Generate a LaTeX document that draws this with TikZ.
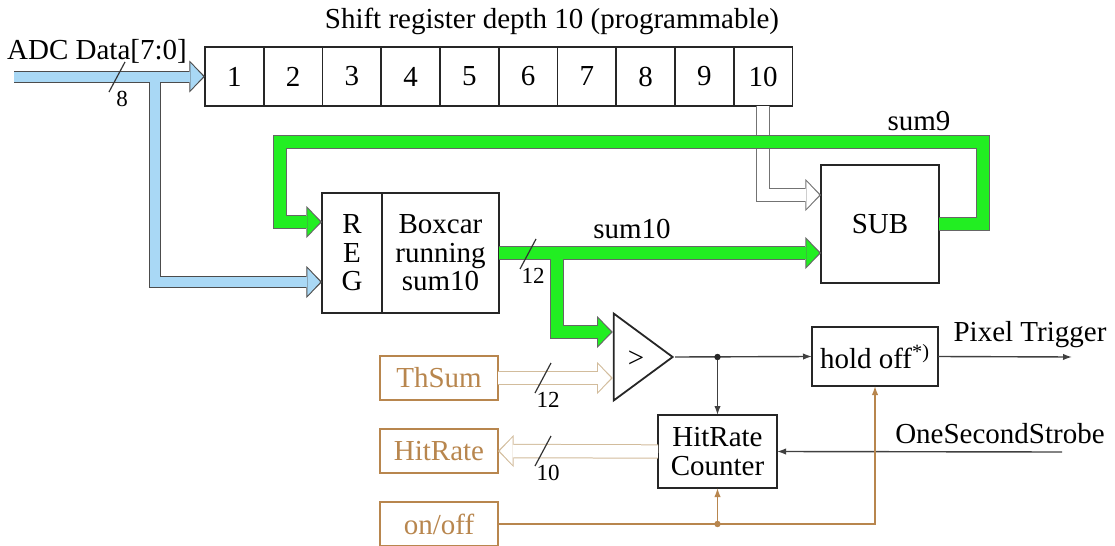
\documentclass[tikz,border=0pt]{standalone}
\usepackage{fontspec}
\setmainfont{Liberation Serif}
\usepackage{tikz}
\usetikzlibrary{positioning,arrows.meta,shapes.geometric,calc}
\usepackage{xcolor}

\definecolor{busblue}{HTML}{A9D8F5}
\definecolor{busgreen}{HTML}{22EE22}
\definecolor{ctlbrown}{HTML}{B8864E}
\definecolor{tanedge}{HTML}{D2BC9C}

\begin{document}
\begin{tikzpicture}[
    x=0.5pt, y=-0.5pt,
    txt/.style={font=\fontsize{14.5}{14.3}\selectfont},
    wtxt/.style={font=\fontsize{11.5}{12}\selectfont, inner sep=0pt},
    block/.style={draw=black!85, line width=0.9pt, fill=white, align=center, inner sep=0pt, outer sep=0pt, txt},
    cell/.style={block, minimum width=29.4pt, minimum height=29.5pt},
    ctlbox/.style={draw=ctlbrown, line width=0.9pt, text=ctlbrown, minimum width=59pt, minimum height=22pt, inner sep=0pt, outer sep=0pt, txt},
    busout/.style={draw=#1, line width=7.2pt, -{Triangle[length=7.8pt, width=16pt, line width=0pt]}},
    busin/.style={draw=#1, line width=6.2pt, shorten >=0.9pt, -{Triangle[length=6.4pt, width=13.6pt, line width=0pt]}},
    sig/.style={draw=black!75, line width=0.7pt, -{Latex[length=4.5pt, width=3.2pt]}},
    ctl/.style={draw=ctlbrown, line width=0.7pt, -{Latex[length=4.5pt, width=3.2pt]}},
    slash/.style={draw=black!80, line width=0.6pt},
]
\useasboundingbox (0,0) rectangle (1115,546);

% shift register
\node[txt] (title) at (552,21) {Shift register depth 10 (programmable)};
\foreach \i in {1,...,10}
  \node[cell] (c\i) at ({205+58.75*(\i-0.5)},76.5) {\i};
\node[txt] (adc) at (97,51) {ADC Data[7:0]};

% blocks
\node[block, minimum width=30pt, minimum height=60pt] (reg) at (352,253) {R\\E\\G};
\node[block, minimum width=58.5pt, minimum height=60pt, right=0pt of reg] (boxcar) {Boxcar\\running\\sum10};
\node[block, minimum width=59pt, minimum height=59pt] (sub) at (880,224) {SUB};
\node[draw=black!85, line width=0.9pt, isosceles triangle, isosceles triangle stretches,
      minimum width=43.5pt, minimum height=29.5pt, inner sep=0pt, anchor=apex] (cmp) at (675,357) {};
\node[txt] (gt) at (636,359) {>};
\node[block, minimum width=63pt, minimum height=29.5pt] (hold) at (875,356.5) {hold off\textsuperscript{*)}};
\node[block, minimum width=59.5pt, minimum height=36.5pt] (cnt) at (717.5,451.5) {HitRate\\Counter};
\node[ctlbox] (thsum) at (439,378) {ThSum};
\node[ctlbox] (hitrate) at (439,451) {HitRate};
\node[ctlbox] (onoff) at (439,524) {on/off};

% labels
\node[txt, anchor=base] (lsum9) at (919,130) {sum9};
\node[txt, anchor=base] (lsum10) at (632,238) {sum10};
\node[txt, anchor=base] (lpix) at (1030,341) {Pixel Trigger};
\node[txt, anchor=base] (lstrobe) at (1000,443) {OneSecondStrobe};
\node[wtxt] (w8) at (122,99) {8};
\node[wtxt] (w12a) at (533,276) {12};
\node[wtxt] (w12b) at (548,400) {12};
\node[wtxt] (w10) at (548,473) {10};

\coordinate (adcin) at (14,76.5);
\coordinate (bj) at (155,76.5);
\coordinate (gtr) at (983,142);
\coordinate (gtl) at (280,142);
\coordinate (gj) at (557,253);
\coordinate (jd) at (cnt.north |- cmp.apex);
\coordinate (jo) at (cnt.south |- onoff.east);
\coordinate (pixout) at (1072,357);
\coordinate (strobe) at (1062,452);

% buses: outline first, then fill
\draw[busout=black!70, line width=6pt] (adcin) -- (c1.west);
\draw[busout=black!70, line width=6pt] (bj) |- ([yshift=-14.5pt]reg.west);
\draw[busin=busblue, line width=5pt] (adcin) -- (c1.west);
\draw[busin=busblue, line width=5pt] (bj) |- ([yshift=-14.5pt]reg.west);

\draw[busout=black!55] (c10.south) |- ([yshift=14.5pt]sub.west);
\draw[busin=white] (c10.south) |- ([yshift=14.5pt]sub.west);

\draw[busout=black!60] (sub.east) -| (gtr) -- (gtl) |- ([yshift=15.5pt]reg.west);
\draw[busout=black!60] (boxcar.east) -- (sub.west |- boxcar.east);
\draw[busout=black!60] (gj) |- ($(cmp.west)+(0,-25)$);
\draw[busin=busgreen] (sub.east) -| (gtr) -- (gtl) |- ([yshift=15.5pt]reg.west);
\draw[busin=busgreen] (boxcar.east) -- (sub.west |- boxcar.east);
\draw[busin=busgreen] (gj) |- ($(cmp.west)+(0,-25)$);

\draw[busout=tanedge] (thsum.east) -- (cmp.west |- thsum.east);
\draw[busout=tanedge] (cnt.west) -- (hitrate.east);
\draw[busin=white] (thsum.east) -- (cmp.west |- thsum.east);
\draw[busin=white] (cnt.west) -- (hitrate.east);

% bus widths
\foreach \w in {w8,w12a,w12b,w10}
  \draw[slash] ([shift={(-13,-7)}]\w.center) -- ++(16,-30);

% signals
\draw[sig] (cmp.apex) -- (hold.west);
\draw[sig] (jd) -- (cnt.north);
\draw[sig] (hold.east) -- (pixout);
\draw[sig] (strobe) -- (cnt.east);
\fill[black!85] (jd) circle (1.6pt);
\draw[ctl] (onoff.east) -| (hold.south);
\draw[ctl] (jo) -- (cnt.south);
\fill[ctlbrown] (jo) circle (1.6pt);

\end{tikzpicture}
\end{document}
